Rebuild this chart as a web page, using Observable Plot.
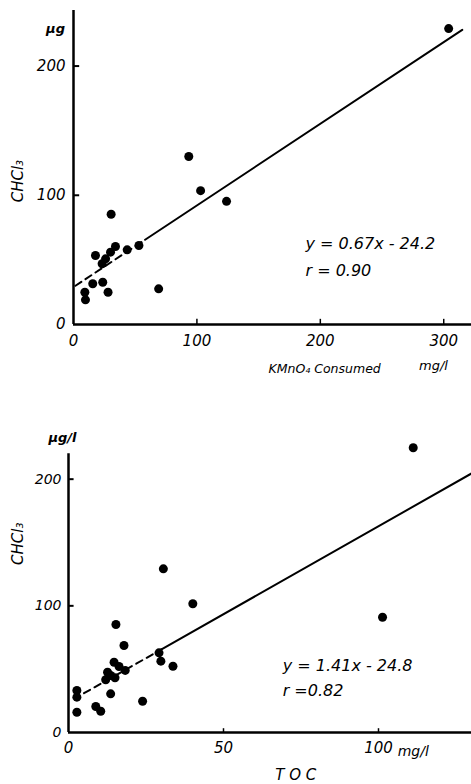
<!DOCTYPE html>
<html><head><meta charset="utf-8">
<script src="https://cdn.jsdelivr.net/npm/d3@7"></script>
<script src="https://cdn.jsdelivr.net/npm/@observablehq/plot@0.6"></script>
<style>
body{margin:0;background:#fff;width:471px;height:784px;overflow:hidden}
#chart svg{display:block}
</style></head><body><div id="chart"></div>
<script>
// Panel A: KMnO4 consumed (mg/l) vs CHCl3 (μg/l)
const kmno4  = [304, 93.4, 103, 124, 30.5, 17.8, 34, 30, 26, 23.2, 43.5, 53, 15.6, 23.7, 28, 9.2, 9.7, 69];
const chcl3A = [229, 130, 103.6, 95.3, 85.3, 53.4, 60.4, 56, 50.8, 47, 57.8, 61.1, 31.5, 32.7, 25, 25, 19.1, 27.6];
const lineAx = [1.6, 58, 315];
const lineAy = [30, 65.6, 228];
const xTicksA = [0, 100, 200, 300];
const yTicksA = [0, 100, 200];
const eqA = ["y = 0.67x - 24.2", "r = 0.90"];

// Panel B: TOC (mg/l) vs CHCl3 (μg/l)
const toc    = [111.2, 30.6, 40.1, 101.3, 15.3, 17.9, 29.2, 29.8, 33.7, 14.7, 16.3, 18.3, 12.6, 13.6, 15, 12, 13.6, 23.9, 8.8, 10.4, 2.7, 2.7, 2.7];
const chcl3B = [224.8, 129.2, 101.6, 91, 85.3, 68.7, 62.9, 56.3, 52.3, 55.5, 52.1, 49, 47.6, 45, 43.2, 41.6, 30.5, 24.7, 20.5, 16.8, 33.2, 27.9, 16];
const lineBx = [5, 30, 130];
const lineBy = [31, 65.6, 204.5];
const xTicksB = [0, 50, 100];
const yTicksB = [0, 100, 200];
const eqB = ["y = 1.41x - 24.8", "r =0.82"];

const font = {fontFamily: "DejaVu Sans", fontStyle: "italic"};
const seg = (xs, ys, a, b) => [{x: xs[a], y: ys[a]}, {x: xs[b], y: ys[b]}];

const A = Plot.plot({
  width: 471, height: 380,
  marginLeft: 73, marginRight: 0, marginTop: 10, marginBottom: 56,
  x: {domain: [0, 322.5], axis: null},
  y: {domain: [0, 243], axis: null},
  style: {background: "white", color: "black", fontFamily: "DejaVu Sans"},
  marks: [
    Plot.ruleX([0], {strokeWidth: 2.5}),
    Plot.ruleY([0], {strokeWidth: 2.5}),
    Plot.ruleY(yTicksA.filter(d => d > 0), {y: d => d, x1: 0, x2: 5, strokeWidth: 2}),
    Plot.ruleX(xTicksA.filter(d => d > 0), {x: d => d, y1: 0, y2: 4, strokeWidth: 1.5}),
    Plot.text(yTicksA, {x: 0, y: d => d, text: d => String(d), textAnchor: "end", dx: -8, fontSize: 15, ...font}),
    Plot.text(xTicksA, {x: d => d, y: 0, text: d => String(d), dy: 17, fontSize: 15, ...font}),
    Plot.line(seg(lineAx, lineAy, 0, 1), {x: "x", y: "y", strokeWidth: 2, strokeDasharray: "7,5"}),
    Plot.line(seg(lineAx, lineAy, 1, 2), {x: "x", y: "y", strokeWidth: 2}),
    Plot.dot(kmno4.map((x, i) => ({x, y: chcl3A[i]})), {x: "x", y: "y", r: 4.5, fill: "black", stroke: "none"}),
    Plot.text(["CHCl₃"], {x: 0, y: 111, dx: -55, rotate: -90, fontSize: 15, ...font}),
    Plot.text(["μg"], {x: 0, y: 229, dx: -18, fontSize: 13, fontWeight: "bold", ...font}),
    Plot.text(["KMnO₄ Consumed"], {x: 158, y: 0, dy: 44, textAnchor: "start", fontSize: 12.5, ...font}),
    Plot.text(["mg/l"], {x: 280, y: 0, dy: 41, textAnchor: "start", fontSize: 13, ...font}),
    Plot.text(eqA, {x: 188, y: (d, i) => [62.7, 41.8][i], textAnchor: "start", fontSize: 16, ...font})
  ]
});

const B = Plot.plot({
  width: 471, height: 404,
  marginLeft: 68, marginRight: 0, marginTop: 48, marginBottom: 52,
  x: {domain: [0, 130], axis: null},
  y: {domain: [0, 240], axis: null},
  style: {background: "white", color: "black", fontFamily: "DejaVu Sans"},
  marks: [
    Plot.ruleX([0], {y1: 0, y2: 220, strokeWidth: 2.5}),
    Plot.ruleY([0], {strokeWidth: 2.5}),
    Plot.ruleY(yTicksB.filter(d => d > 0), {y: d => d, x1: 0, x2: 1.8, strokeWidth: 2}),
    Plot.ruleX(xTicksB.filter(d => d > 0), {x: d => d, y1: 0, y2: 3, strokeWidth: 1.5}),
    Plot.text(yTicksB, {x: 0, y: d => d, text: d => String(d), textAnchor: "end", dx: -7, fontSize: 14, ...font}),
    Plot.text(xTicksB, {x: d => d, y: 0, text: d => String(d), dy: 16, fontSize: 15, ...font}),
    Plot.line(seg(lineBx, lineBy, 0, 1), {x: "x", y: "y", strokeWidth: 2, strokeDasharray: "7,5"}),
    Plot.line(seg(lineBx, lineBy, 1, 2), {x: "x", y: "y", strokeWidth: 2}),
    Plot.dot(toc.map((x, i) => ({x, y: chcl3B[i]})), {x: "x", y: "y", r: 4.5, fill: "black", stroke: "none"}),
    Plot.text(["CHCl₃"], {x: 0, y: 149, dx: -50, rotate: -90, fontSize: 15, ...font}),
    Plot.text(["μg/l"], {x: 0, y: 233, dx: -6, fontSize: 13, fontWeight: "bold", ...font}),
    Plot.text(["mg/l"], {x: 106.2, y: 0, dy: 19, textAnchor: "start", fontSize: 14, ...font}),
    Plot.text(["T O C"], {x: 73.3, y: 0, dy: 43, fontSize: 15, ...font}),
    Plot.text(eqB, {x: 69.1, y: (d, i) => [52.9, 33.2][i], textAnchor: "start", fontSize: 16, ...font})
  ]
});

document.getElementById("chart").append(A, B);
</script></body></html>
